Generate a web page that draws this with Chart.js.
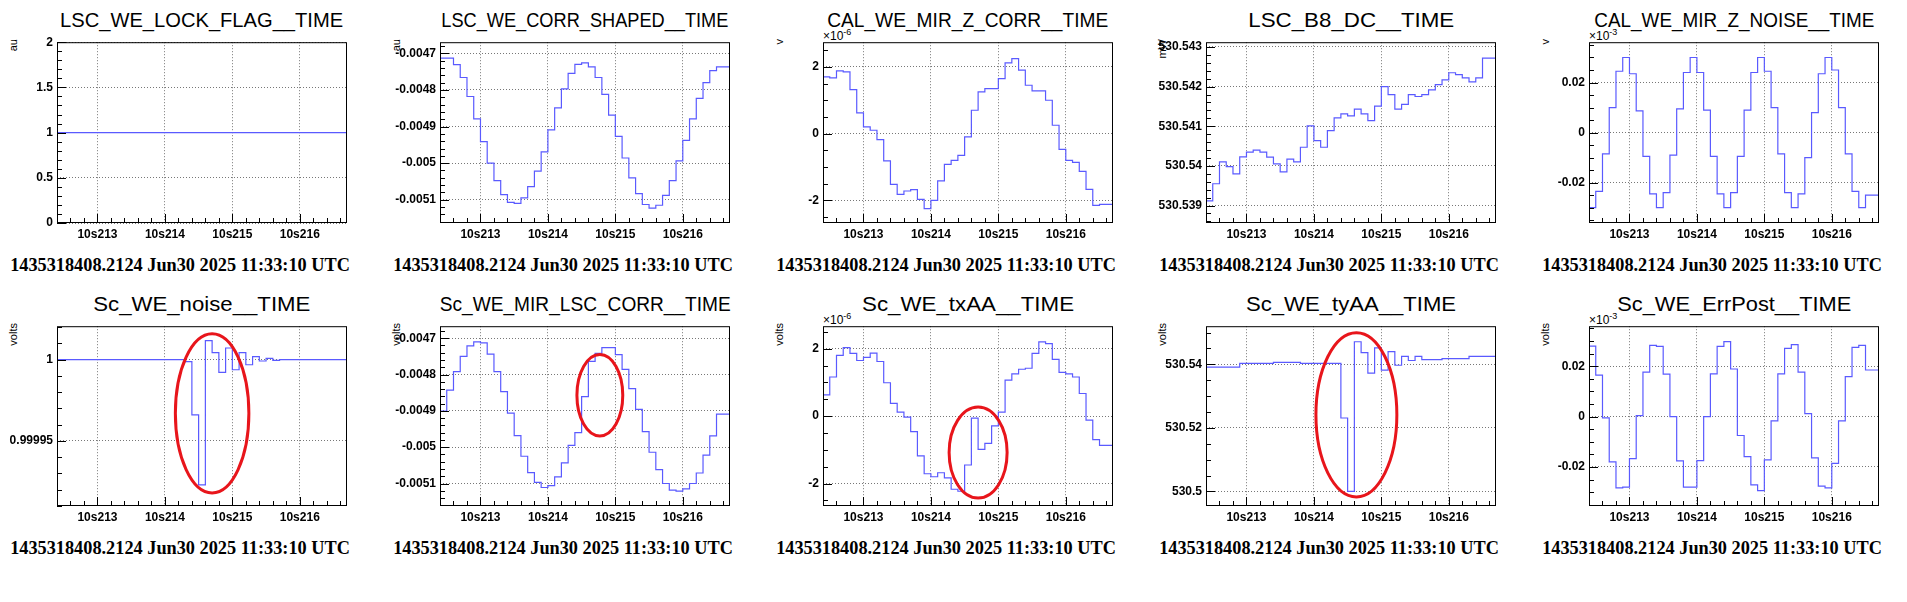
<!DOCTYPE html>
<html>
<head>
<meta charset="utf-8">
<script src="https://cdn.jsdelivr.net/npm/chart.js@4/dist/chart.umd.min.js"></script>
<style>
  body { margin: 0; background: #fff; width: 1907px; height: 602px; position: relative; overflow: hidden; font-family: "Liberation Sans", Arial, sans-serif; }
  .box { position: absolute; }
  .title { position: absolute; font-size: 20px; line-height: 20px; white-space: nowrap; color: #000; transform-origin: center top; }
  .foot { position: absolute; font-family: "Liberation Serif", serif; font-weight: bold; font-size: 18.3px; line-height: 19px; white-space: nowrap; transform: translateX(-50%); }
  .ylab { position: absolute; width: 60px; text-align: right; font-size: 11px; line-height: 12px; transform-origin: top left; transform: translate(0, 60px) rotate(-90deg); }
  .expo { position: absolute; font-size: 12px; line-height: 12px; }
  .expo sup { font-size: 9px; }
</style>
</head>
<body>
<script>
// --- shared x axis: 43 bins of 0.1 s ---
const binStart = 212.4, binWidth = 0.1;
const xTickVals = [213, 214, 215, 216];
const xTickLabels = ["10s213", "10s214", "10s215", "10s216"];
const footText = "1435318408.2124 Jun30 2025 11:33:10 UTC";

// --- series values ---
const lockFlag = [1,1,1,1,1,1,1,1,1,1,1,1,1,1,1,1,1,1,1,1,1,1,1,1,1,1,1,1,1,1,1,1,1,1,1,1,1,1,1,1,1,1,1];
const corrShaped = [-0.004734,-0.004713,-0.004713,-0.004731,-0.004766,-0.004818,-0.004879,-0.004941,-0.005000,-0.005048,
  -0.005086,-0.005107,-0.005110,-0.005095,-0.005064,-0.005022,-0.004969,-0.004909,-0.004849,-0.004797,
  -0.004755,-0.004730,-0.004726,-0.004737,-0.004766,-0.004812,-0.004869,-0.004927,-0.004986,-0.005040,
  -0.005083,-0.005113,-0.005123,-0.005115,-0.005088,-0.005048,-0.004994,-0.004938,-0.004879,-0.004823,
  -0.004780,-0.004747,-0.004737];
const mirZCorr = [2.0,1.7,1.67,1.88,1.85,1.32,0.62,0.2,0.1,-0.18,
  -0.82,-1.52,-1.82,-1.72,-1.68,-1.97,-2.25,-2.0,-1.42,-0.92,
  -0.8,-0.65,-0.1,0.7,1.25,1.35,1.35,1.65,2.12,2.25,
  1.9,1.45,1.28,1.28,1.0,0.25,-0.47,-0.8,-0.86,-1.13,
  -1.67,-2.15,-2.12];
const b8dc = [530.53893,530.53912,530.53955,530.54010,530.53998,530.53980,530.54023,530.54035,530.54040,530.54035,
  530.54022,530.54005,530.53985,530.54017,530.54010,530.54047,530.54101,530.54064,530.54047,530.54089,
  530.54121,530.54131,530.54126,530.54143,530.54131,530.54114,530.54151,530.54200,530.54180,530.54143,
  530.54155,530.54180,530.54175,530.54180,530.54192,530.54205,530.54217,530.54235,530.54230,530.54222,
  530.54212,530.54222,530.54272];
const mirZNoise = [-0.025,-0.030,-0.0235,-0.0085,0.010,0.0245,0.030,0.0235,0.0087,-0.0095,
  -0.0245,-0.030,-0.024,-0.009,0.0095,0.024,0.030,0.024,0.009,-0.0095,
  -0.0245,-0.030,-0.024,-0.0095,0.009,0.024,0.030,0.0245,0.010,-0.0085,
  -0.024,-0.030,-0.0245,-0.010,0.008,0.0235,0.030,0.025,0.010,-0.0085,
  -0.0235,-0.030,-0.025];
const scNoise = [1,1,1,1,1,1,1,1,1,1,1,1,1,1,1,1,1,1,1,1,
  0.9999988,0.999966,0.999923,1.0000117,1.0000043,0.9999922,1.0000072,0.9999938,1.0000043,0.9999969,
  1.0000019,0.9999992,1.0000008,0.9999996,1,1,1,1,1,1,1,1,1];
const mirLscCorr = [-0.004958,-0.004901,-0.004843,-0.004792,-0.004750,-0.004721,-0.004710,-0.004713,-0.004744,-0.004792,
  -0.004847,-0.004906,-0.004968,-0.005025,-0.005070,-0.005097,-0.005111,-0.005106,-0.005082,-0.005043,
  -0.004995,-0.004960,-0.004861,-0.004764,-0.004742,-0.004726,-0.004726,-0.004745,-0.004786,-0.004839,
  -0.004896,-0.004957,-0.005014,-0.005062,-0.005100,-0.005118,-0.005121,-0.005115,-0.005100,-0.005071,
  -0.005022,-0.004969,-0.004909];
const txAA = [0.43,0.63,1.16,1.80,2.03,1.86,1.65,1.74,1.87,1.62,
  0.99,0.38,0.12,-0.03,-0.46,-1.18,-1.71,-1.80,-1.68,-1.83,
  -2.17,-2.23,-1.45,-0.06,-0.99,-0.81,-0.29,0.12,1.07,1.25,
  1.39,1.42,1.86,2.20,2.15,1.68,1.30,1.25,1.16,0.67,
  -0.12,-0.70,-0.87];
const tyAA = [530.5391,530.5391,530.5391,530.5391,530.5391,530.5391,530.5403,530.5403,530.5403,530.5403,
  530.5403,530.5406,530.5406,530.5406,530.5406,530.5403,530.5403,530.5403,530.5403,530.5403,
  530.5403,530.5231,530.5000,530.5471,530.5437,530.5372,530.5452,530.5382,530.5440,530.5397,
  530.5425,530.5412,530.5425,530.5415,530.5415,530.5415,530.5418,530.5418,530.5418,530.5418,
  530.5425,530.5425,530.5425];
const errPost = [0.0283,0.028,0.0165,-0.0005,-0.018,-0.0283,-0.028,-0.0167,0.0004,0.0177,
  0.0283,0.0279,0.0169,0,-0.0176,-0.028,-0.028,-0.0175,0,0.017,
  0.0279,0.0298,0.0189,-0.0075,-0.0159,-0.0271,-0.0294,-0.0172,-0.0017,0.017,
  0.0271,0.0286,0.0177,0.0012,-0.0164,-0.0276,-0.0283,-0.0186,-0.0017,0.0159,
  0.0275,0.0283,0.0185];

// --- panels (titleW = drawn width of the title, ROOT stretches them) ---
const panels = [
  { title: "LSC_WE_LOCK_FLAG__TIME", titleW: 283, unit: "au", data: lockFlag, min: 0, max: 2, ticks: [0,0.5,1,1.5,2], div: 5 },
  { title: "LSC_WE_CORR_SHAPED__TIME", titleW: 287, unit: "au", data: corrShaped, min: -0.0051635, max: -0.0046696, ticks: [-0.0051,-0.005,-0.0049,-0.0048,-0.0047], div: 5 },
  { title: "CAL_WE_MIR_Z_CORR__TIME", titleW: 281, unit: "v", data: mirZCorr, min: -2.68, max: 2.74, ticks: [-2,0,2], div: 4, expo: "-6" },
  { title: "LSC_B8_DC__TIME", titleW: 206, unit: "mW", data: b8dc, min: 530.53856, max: 530.54312, ticks: [530.539,530.54,530.541,530.542,530.543], div: 5 },
  { title: "CAL_WE_MIR_Z_NOISE__TIME", titleW: 280, unit: "v", data: mirZNoise, min: -0.0361, max: 0.0361, ticks: [-0.02,0,0.02], div: 4, expo: "-3" },
  { title: "Sc_WE_noise__TIME", titleW: 217, unit: "volts", data: scNoise, min: 0.99991, max: 1.0000206, ticks: [0.99995,1], div: 5,
    ellipses: [{ cx: 214.70, cy: 0.999967, rx: 0.545, ry: 0.000049 }] },
  { title: "Sc_WE_MIR_LSC_CORR__TIME", titleW: 291, unit: "volts", data: mirLscCorr, min: -0.0051619, max: -0.004667, ticks: [-0.0051,-0.005,-0.0049,-0.0048,-0.0047], div: 5,
    ellipses: [{ cx: 214.77, cy: -0.004857, rx: 0.34, ry: 0.000112 }] },
  { title: "Sc_WE_txAA__TIME", titleW: 212, unit: "volts", data: txAA, min: -2.667, max: 2.667, ticks: [-2,0,2], div: 4, expo: "-6",
    ellipses: [{ cx: 214.70, cy: -1.08, rx: 0.43, ry: 1.35 }] },
  { title: "Sc_WE_tyAA__TIME", titleW: 210, unit: "volts", data: tyAA, min: 530.4954, max: 530.552, ticks: [530.5,530.52,530.54], div: 4,
    ellipses: [{ cx: 214.63, cy: 530.5241, rx: 0.6, ry: 0.02585 }] },
  { title: "Sc_WE_ErrPost__TIME", titleW: 234, unit: "volts", data: errPost, min: -0.0355, max: 0.0359, ticks: [-0.02,0,0.02], div: 4, expo: "-3" }
];

const plotW = 290, yAxisW = 60, xAxisH = 22, pad = 8;
const rowTops = [39, 323], rowHeights = [184, 183];
const measure = document.createElement("canvas").getContext("2d");
measure.font = '20px "Liberation Sans"';

function stepPoints(vals) {
  const pts = vals.map((v, i) => ({ x: binStart + i * binWidth, y: v }));
  pts.push({ x: binStart + vals.length * binWidth, y: vals[vals.length - 1] });
  return pts;
}

// ROOT-style frame, inner ticks and red circles
const rootFrame = {
  id: "rootFrame",
  afterDraw(chart, args, opts) {
    const { ctx, chartArea: a, scales: { x, y } } = chart;
    ctx.save();
    ctx.strokeStyle = "#000";
    ctx.lineWidth = 1;
    ctx.strokeRect(a.left + 0.5, a.top + 0.5, a.right - a.left - 1, a.bottom - a.top - 1);
    ctx.beginPath();
    for (let v = Math.ceil(x.min / 0.2) * 0.2; v <= x.max + 1e-9; v += 0.2) {
      const px = Math.round(x.getPixelForValue(v)) + 0.5;
      const major = Math.abs(v - Math.round(v)) < 1e-6;
      ctx.moveTo(px, a.bottom); ctx.lineTo(px, a.bottom - (major ? 9 : 5));
    }
    const t = opts.ticks, step = (t[1] - t[0]) / opts.div;
    for (let k = -60; k <= 60 + t.length * opts.div; k++) {
      const v = t[0] + k * step;
      if (v < y.min || v > y.max) continue;
      const py = Math.round(y.getPixelForValue(v)) + 0.5;
      ctx.moveTo(a.left, py); ctx.lineTo(a.left + (k % opts.div === 0 ? 9 : 5), py);
    }
    ctx.stroke();
    ctx.strokeStyle = "#e8151b";
    ctx.lineWidth = 3;
    (opts.ellipses || []).forEach(e => {
      const cx = x.getPixelForValue(e.cx), cy = y.getPixelForValue(e.cy);
      const rx = Math.abs(x.getPixelForValue(e.cx + e.rx) - cx);
      const ry = Math.abs(y.getPixelForValue(e.cy + e.ry) - cy);
      ctx.beginPath(); ctx.ellipse(cx, cy, rx, ry, 0, 0, Math.PI * 2); ctx.stroke();
    });
    ctx.restore();
  }
};

function addDiv(cls, html, css) {
  const d = document.createElement("div");
  d.className = cls; d.innerHTML = html;
  Object.assign(d.style, css);
  document.body.appendChild(d);
  return d;
}

panels.forEach((p, i) => {
  const row = Math.floor(i / 5), col = i % 5;
  const plotLeft = 57 + col * 383, plotTop = rowTops[row], plotH = rowHeights[row];
  const cxMid = plotLeft + plotW / 2;

  const tw = measure.measureText(p.title).width;
  addDiv("title", p.title, { left: (cxMid - tw / 2) + "px", top: (plotTop - 30) + "px", transform: "scale(" + (p.titleW / tw) + ", 1.04)" });
  addDiv("foot", footText, { left: (cxMid - 22) + "px", top: (plotTop + plotH + 33) + "px" });
  addDiv("ylab", p.unit, { left: (plotLeft - 50) + "px", top: plotTop + "px" });
  if (p.expo) addDiv("expo", "×10<sup>" + p.expo + "</sup>", { left: plotLeft + "px", top: (plotTop - 13) + "px" });

  const box = document.createElement("div");
  box.className = "box";
  box.style.left = (plotLeft - yAxisW) + "px";
  box.style.top = (plotTop - pad) + "px";
  const cv = document.createElement("canvas");
  cv.width = yAxisW + plotW + pad;
  cv.height = pad + plotH + xAxisH;
  box.appendChild(cv);
  document.body.appendChild(box);

  new Chart(cv, {
    type: "line",
    data: { datasets: [{ data: stepPoints(p.data), stepped: "after", borderColor: "#5a5aff", borderWidth: 1.2, pointRadius: 0, fill: false }] },
    options: {
      responsive: false,
      animation: false,
      devicePixelRatio: 1,
      layout: { padding: { top: pad, right: pad, left: 0, bottom: 0 } },
      plugins: { legend: { display: false }, tooltip: { enabled: false }, rootFrame: { ticks: p.ticks, div: p.div, ellipses: p.ellipses } },
      scales: {
        x: {
          type: "linear", min: binStart, max: binStart + p.data.length * binWidth,
          afterBuildTicks: s => { s.ticks = xTickVals.map(v => ({ value: v })); },
          afterFit: s => { s.height = xAxisH; },
          ticks: { callback: (v) => xTickLabels[xTickVals.indexOf(v)], color: "#000", font: { family: "Liberation Sans", size: 12, weight: "bold" }, padding: 4, maxRotation: 0 },
          grid: { color: "#777", drawTicks: false },
          border: { display: false, dash: [1, 2] }
        },
        y: {
          type: "linear", min: p.min, max: p.max,
          afterBuildTicks: s => { s.ticks = p.ticks.map(v => ({ value: v })); },
          afterFit: s => { s.width = yAxisW; },
          ticks: { callback: v => String(v), color: "#000", font: { family: "Liberation Sans", size: 12, weight: "bold" }, padding: 4 },
          grid: { color: "#777", drawTicks: false },
          border: { display: false, dash: [1, 2] }
        }
      }
    },
    plugins: [rootFrame]
  });
});
</script>
</body>
</html>
